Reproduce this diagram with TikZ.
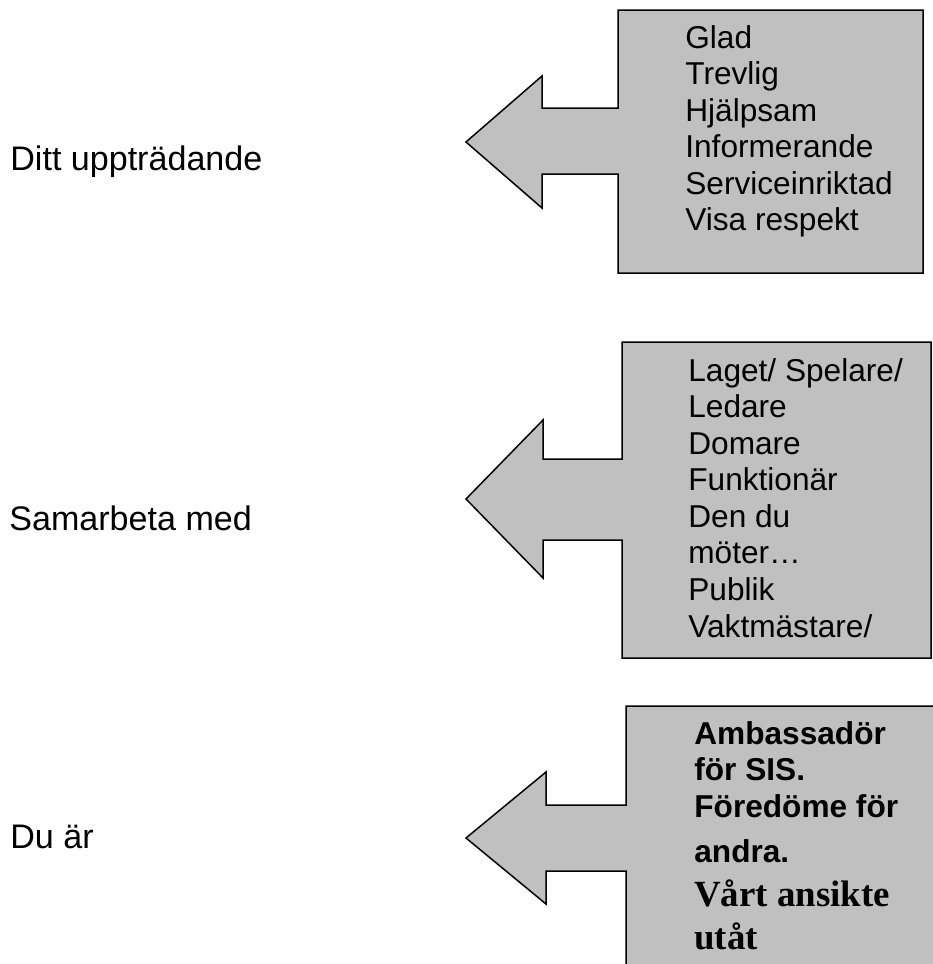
\documentclass[tikz,border=0pt]{standalone}
\usepackage{fontspec}
\setmainfont{Liberation Sans}
\newfontfamily\timesfont{Liberation Serif}
\definecolor{boxgray}{RGB}{192,192,192}
\begin{document}
\begin{tikzpicture}[x=0.02cm, y=-0.02cm,
  callout/.style={draw=black, fill=boxgray, line width=0.85pt, line join=miter},
  lbl/.style={anchor=base west, inner sep=0pt, font=\fontsize{19.4}{23}\selectfont},
  items/.style={anchor=north west, inner sep=0pt, align=left, font=\fontsize{18}{20.8}\selectfont},
  bolditems/.style={anchor=north west, inner sep=0pt, align=left, font=\bfseries\fontsize{18}{19.9}\selectfont},
  serifitems/.style={anchor=north west, inner sep=0pt, align=left, font=\timesfont\bfseries\fontsize{21}{24.5}\selectfont}
]
  \useasboundingbox (0,0) rectangle (933,964);
  \clip (0,0) rectangle (933,964);

  % first callout
  \draw[callout] (618,10) -- (923,10) -- (923,273) -- (618,273) -- (618,174) -- (542,174)
    -- (542,208) -- (466,142) -- (542,76) -- (542,108) -- (618,108) -- cycle;
  \node[lbl] (uppt) at (10,170) {Ditt uppträdande};
  \node[items] (uppt-items) at (685,25) {Glad\\ Trevlig\\ Hjälpsam\\ Informerande\\ Serviceinriktad\\ Visa respekt};

  % second callout
  \draw[callout] (622,342) -- (931,342) -- (931,658) -- (622,658) -- (622,540) -- (543,540)
    -- (543,578) -- (466,499) -- (543,420) -- (543,459) -- (622,459) -- cycle;
  \node[lbl] (samarb) at (9,530) {Samarbeta med};
  \node[items] (samarb-items) at (688,358) {Laget/ Spelare/\\ Ledare\\ Domare\\ Funktionär\\ Den du\\ möter…\\ Publik\\ Vaktmästare/};

  % third callout
  \draw[callout] (626,706) -- (950,706) -- (950,990) -- (626,990) -- (626,871) -- (546,871)
    -- (546,904) -- (466,838) -- (546,772) -- (546,805) -- (626,805) -- cycle;
  \node[lbl] (duar) at (10,848) {Du är};
  \node[bolditems] (duar-items) at (694,721) {Ambassadör\\[0.9pt] för SIS.\\[1.2pt] Föredöme för\\[5.7pt] andra.};
  \node[serifitems] (duar-face) at (694,879) {Vårt ansikte\\ utåt};
\end{tikzpicture}
\end{document}
